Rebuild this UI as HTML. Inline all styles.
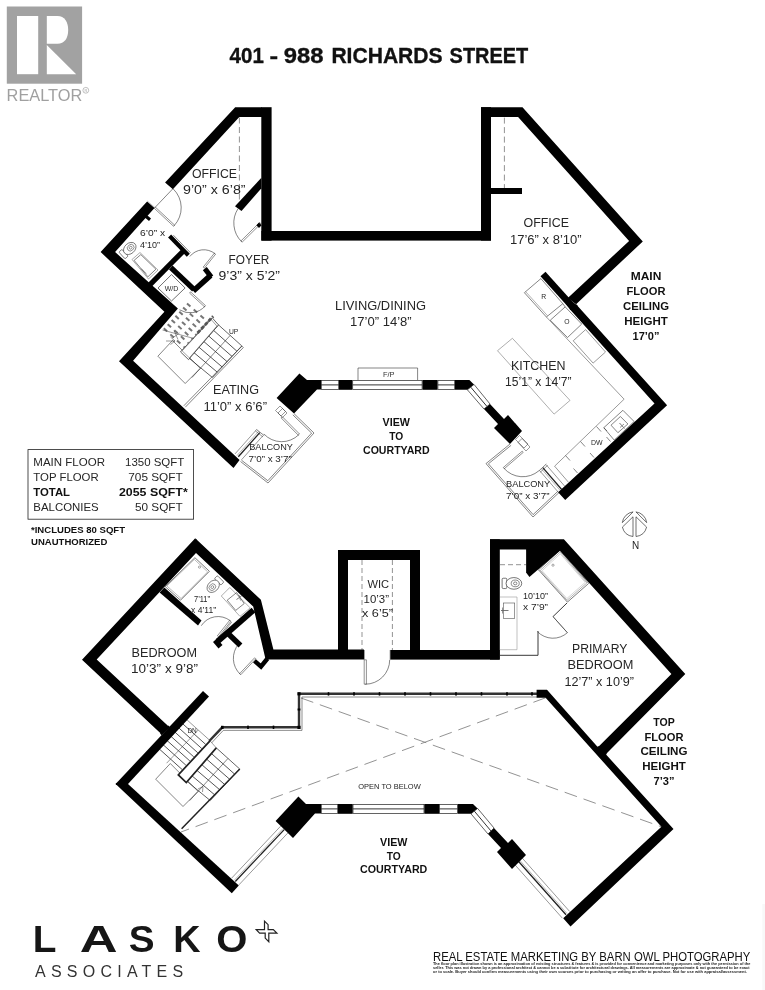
<!DOCTYPE html>
<html><head><meta charset="utf-8"><title>401 - 988 Richards Street</title>
<style>
html,body{margin:0;padding:0;background:#fff;}
body{width:765px;height:990px;overflow:hidden;font-family:"Liberation Sans",sans-serif;}
svg{display:block;font-family:"Liberation Sans",sans-serif;}
</style></head><body>
<svg width="765" height="990" viewBox="0 0 765 990">
<rect x="0" y="0" width="765" height="990" fill="#fff"/>
<g style="opacity:0.999"><line x1="239.4" y1="117.5" x2="239.4" y2="201.0" stroke="#808080" stroke-width="0.85" stroke-dasharray="6 3.5"/>
<line x1="504.4" y1="117.6" x2="504.4" y2="188.0" stroke="#808080" stroke-width="0.85" stroke-dasharray="6 3.5"/>
<path d="M172.6 189.0 L154.7 207.8" fill="none" stroke="#333" stroke-width="0.6" />
<path d="M165.6 182.2 L173.2 188.8" fill="none" stroke="#999" stroke-width="0.5" />
<path d="M147.4 201.0 L154.9 207.5" fill="none" stroke="#999" stroke-width="0.5" />
<path d="M174.1 225.7 A26.2 26.2 0 0 0 173.2 188.9" fill="none" stroke="#333" stroke-width="0.6" />
<path d="M154.4 208.4 L173.6 226.3 L174.6 225.1 L155.4 207.2 Z" fill="none" stroke="#222" stroke-width="0.5" />
<path d="M241.5 241.6 A26.4 26.4 0 0 1 238.0 208.7" fill="none" stroke="#333" stroke-width="0.6" />
<path d="M259.7 222.4 L240.9 241.0 L242.1 242.2 L260.9 223.6 Z" fill="none" stroke="#222" stroke-width="0.5" />
<polygon points="259.0,222.5 261.6,225.2 259.0,228.0 256.4,225.2" fill="#000" />
<path d="M215.0 253.7 A17.9 17.9 0 0 0 189.8 256.5" fill="none" stroke="#333" stroke-width="0.6" />
<path d="M204.4 268.1 L215.6 254.2 L214.4 253.2 L203.2 267.1 Z" fill="none" stroke="#222" stroke-width="0.5" />
<g transform="translate(130.5 247.8) rotate(-42.0) scale(1.00)">
<rect x="-11.5" y="-4.6" width="4.2" height="9.2" rx="1" fill="#fff" stroke="#333" stroke-width="0.6"/>
<ellipse cx="-1" cy="0" rx="7" ry="5.2" fill="#fff" stroke="#333" stroke-width="0.6"/>
<ellipse cx="0.2" cy="0" rx="3.6" ry="3" fill="none" stroke="#333" stroke-width="0.5"/>
<ellipse cx="0.2" cy="0" rx="1.5" ry="1.3" fill="none" stroke="#333" stroke-width="0.5"/>
</g>
<polygon points="132.0,259.5 140.0,252.5 158.0,270.0 148.5,279.0" fill="none" stroke="#777" stroke-width="0.6"/>
<polygon points="134.1,260.4 140.8,254.6 155.9,269.2 147.9,276.8" fill="none" stroke="#333" stroke-width="0.6"/>
<path d="M141.0 268.5 L146.0 273.5" fill="none" stroke="#666" stroke-width="0.9" />
<polygon points="171.5,274.6 185.1,288.0 171.5,301.0 158.0,288.0" fill="none" stroke="#333" stroke-width="0.7"/>
<line x1="162.3" y1="326.9" x2="184.4" y2="347.3" stroke="#777" stroke-width="2.0" stroke-dasharray="4.6 4.4" stroke-dashoffset="-2.0"/>
<line x1="166.2" y1="322.8" x2="188.4" y2="343.1" stroke="#777" stroke-width="2.0" stroke-dasharray="4.6 4.4" stroke-dashoffset="-2.0"/>
<line x1="170.1" y1="318.6" x2="192.3" y2="338.9" stroke="#777" stroke-width="2.0" stroke-dasharray="4.6 4.4" stroke-dashoffset="-2.0"/>
<line x1="173.9" y1="314.5" x2="196.2" y2="334.8" stroke="#777" stroke-width="2.0" stroke-dasharray="4.6 4.4" stroke-dashoffset="-2.0"/>
<line x1="177.8" y1="310.4" x2="200.2" y2="330.6" stroke="#777" stroke-width="2.0" stroke-dasharray="4.6 4.4" stroke-dashoffset="-2.0"/>
<line x1="181.6" y1="306.2" x2="204.1" y2="326.4" stroke="#777" stroke-width="2.0" stroke-dasharray="4.6 4.4" stroke-dashoffset="-2.0"/>
<line x1="185.5" y1="302.1" x2="208.1" y2="322.2" stroke="#777" stroke-width="2.0" stroke-dasharray="4.6 4.4" stroke-dashoffset="-2.0"/>
<polygon points="157.9,356.2 172.5,340.5 200.3,368.4 185.2,383.5" fill="none" stroke="#333" stroke-width="0.6"/>
<polygon points="218.5,324.9 241.8,345.9 212.4,377.5 189.0,358.2" fill="none" stroke="#222" stroke-width="0.7"/>
<path d="M213.6 330.4 L236.9 351.2" fill="none" stroke="#555" stroke-width="1.0" />
<path d="M208.7 336.0 L232.0 356.4" fill="none" stroke="#555" stroke-width="1.0" />
<path d="M203.8 341.5 L227.1 361.7" fill="none" stroke="#555" stroke-width="1.0" />
<path d="M198.8 347.1 L222.2 367.0" fill="none" stroke="#555" stroke-width="1.0" />
<path d="M193.9 352.6 L217.3 372.2" fill="none" stroke="#555" stroke-width="1.0" />
<path d="M230.2 335.4 L191.9 377.6" fill="none" stroke="#333" stroke-width="0.6" />
<polygon points="180.5,351.9 212.2,317.8 218.5,324.9 188.5,359.6" fill="#fff" stroke="#222" stroke-width="0.7"/>
<polygon points="182.1,350.8 211.2,319.5 216.9,326.1 189.4,357.9" fill="none" stroke="#444" stroke-width="0.5"/>
<path d="M183.8 405.8 L242.0 346.1" fill="none" stroke="#333" stroke-width="0.6" />
<path d="M185.3 407.2 L243.3 347.6" fill="none" stroke="#333" stroke-width="0.6" />
<path d="M242.0 346.1 L243.3 347.6" fill="none" stroke="#333" stroke-width="0.6" />
<path d="M197.5 333.0 L213.2 316.2" fill="none" stroke="#555" stroke-width="2.8" stroke-dasharray="3.6 1.8"/>
<path d="M162.5 330.0 L194.0 338.5" fill="none" stroke="#333" stroke-width="0.5" />
<path d="M174.0 330.5 L178.0 339.5" fill="none" stroke="#333" stroke-width="0.5" />
<path d="M172.5 338.0 L179.5 333.0" fill="none" stroke="#333" stroke-width="0.5" />
<path d="M166.0 341.0 L175.0 341.0" fill="none" stroke="#333" stroke-width="0.5" />
<path d="M170.5 337.0 L175.0 341.0 L170.5 344.5" fill="none" stroke="#333" stroke-width="0.5" />
<path d="M205.0 306.2 A20.2 20.2 0 0 1 179.5 309.8" fill="none" stroke="#333" stroke-width="0.6" />
<path d="M189.6 293.1 L204.5 306.8 L205.5 305.6 L190.6 291.9 Z" fill="none" stroke="#222" stroke-width="0.5" />
<path d="M294.0 413.6 L314.0 433.0 L268.0 483.0 L240.5 461.5" fill="none" stroke="#333" stroke-width="0.6" />
<path d="M292.8 414.8 L311.6 433.1 L267.8 480.7 L241.5 460.2" fill="none" stroke="#333" stroke-width="0.6" />
<path d="M298.9 434.6 A24.4 24.4 0 0 1 263.9 434.0" fill="none" stroke="#333" stroke-width="0.6" />
<path d="M281.1 417.9 L298.3 435.2 L299.5 434.0 L282.3 416.7 Z" fill="none" stroke="#222" stroke-width="0.5" />
<polygon points="275.5,410.5 280.0,406.0 285.5,411.5 281.0,416.0" fill="none" stroke="#333" stroke-width="0.5"/>
<polygon points="278.0,413.0 282.5,408.5 287.0,413.0 282.5,417.5" fill="none" stroke="#333" stroke-width="0.5"/>
<path d="M235.0 453.9 L256.5 429.7" fill="none" stroke="#333" stroke-width="0.5" />
<path d="M241.6 459.7 L263.1 435.5" fill="none" stroke="#333" stroke-width="0.5" />
<path d="M238.3 456.8 L259.8 432.6" fill="none" stroke="#222" stroke-width="1.3" />
<path d="M237.0 455.6 L258.5 431.4" fill="none" stroke="#555" stroke-width="0.4" />
<path d="M256.4 429.4 L264.2 435.6" fill="none" stroke="#333" stroke-width="0.6" />
<path d="M255.3 430.8 L263.0 437.0" fill="none" stroke="#333" stroke-width="0.5" />
<path d="M510.0 444.0 L486.0 463.6 L533.0 517.0 L559.3 492.3" fill="none" stroke="#333" stroke-width="0.6" />
<path d="M511.1 445.3 L488.4 463.8 L533.1 514.6 L558.1 491.1" fill="none" stroke="#333" stroke-width="0.6" />
<path d="M503.8 468.1 A25.0 25.0 0 0 0 539.0 470.7" fill="none" stroke="#333" stroke-width="0.6" />
<path d="M522.2 451.2 L503.3 467.5 L504.3 468.7 L523.2 452.4 Z" fill="none" stroke="#222" stroke-width="0.5" />
<polygon points="515.5,439.5 519.5,435.5 528.0,444.0 524.0,448.0" fill="none" stroke="#333" stroke-width="0.5"/>
<polygon points="518.0,442.5 522.0,438.5 530.0,447.0 526.0,451.0" fill="none" stroke="#333" stroke-width="0.5"/>
<path d="M546.1 464.7 L564.8 486.3" fill="none" stroke="#333" stroke-width="0.5" />
<path d="M539.5 470.5 L558.2 492.1" fill="none" stroke="#333" stroke-width="0.5" />
<path d="M542.8 467.6 L561.5 489.2" fill="none" stroke="#222" stroke-width="1.3" />
<path d="M541.4 468.8 L560.1 490.4" fill="none" stroke="#555" stroke-width="0.4" />
<path d="M539.0 470.8 L546.3 464.0" fill="none" stroke="#333" stroke-width="0.6" />
<path d="M540.3 472.2 L547.6 465.4" fill="none" stroke="#333" stroke-width="0.5" />
<polygon points="497.5,350.7 512.4,338.3 570.0,400.4 554.1,414.1" fill="none" stroke="#777" stroke-width="0.6"/>
<polygon points="524.4,292.7 540.9,278.6 562.8,303.7 546.4,317.0" fill="none" stroke="#333" stroke-width="0.6"/>
<path d="M525.6 291.6 L547.6 315.8" fill="none" stroke="#666" stroke-width="0.5" />
<polygon points="550.3,320.2 565.2,306.9 581.7,324.1 567.5,337.5" fill="none" stroke="#333" stroke-width="0.6"/>
<path d="M546.4 317.0 L624.1 399.2 L554.6 466.2 L568.5 482.3" fill="none" stroke="#555" stroke-width="0.6" />
<path d="M562.8 303.7 L565.2 306.9" fill="none" stroke="#333" stroke-width="0.6" />
<polygon points="573.2,340.8 585.6,329.6 605.5,352.0 593.1,363.1" fill="none" stroke="#555" stroke-width="0.6"/>
<polygon points="603.8,427.7 622.9,410.3 634.1,421.5 614.2,440.1" fill="none" stroke="#333" stroke-width="0.6"/>
<polygon points="611.0,425.2 620.4,416.5 627.9,424.0 617.9,432.7" fill="none" stroke="#333" stroke-width="0.6"/>
<path d="M619.5 423.0 L624.5 428.5" fill="none" stroke="#777" stroke-width="1.0" />
<path d="M620.0 427.5 L624.0 424.0" fill="none" stroke="#777" stroke-width="0.8" />
<path d="M596.5 426.5 L601.0 431.5" fill="none" stroke="#333" stroke-width="0.6" />
<path d="M580.5 441.5 L585.0 446.5" fill="none" stroke="#333" stroke-width="0.6" />
<path d="M565.5 455.5 L570.0 460.5" fill="none" stroke="#333" stroke-width="0.6" />
<path d="M610.5 441.5 L606.5 437.0" fill="none" stroke="#333" stroke-width="0.6" />
<path d="M594.0 457.5 L590.0 453.0" fill="none" stroke="#333" stroke-width="0.6" />
<path d="M577.5 473.0 L573.5 468.5" fill="none" stroke="#333" stroke-width="0.6" />
<path d="M603.8 427.7 L607.0 431.0" fill="none" stroke="#333" stroke-width="0.6" />
<path d="M622.3 522.6 A12.4 12.4 0 0 1 633.1 511.9 Z" fill="none" stroke="#333" stroke-width="0.7" />
<path d="M646.7 522.6 A12.4 12.4 0 0 0 635.9 511.9 Z" fill="none" stroke="#333" stroke-width="0.7" />
<path d="M633.0 516.8 L622.4 527.1 A12.4 12.4 0 0 0 633.0 536.5 Z" fill="none" stroke="#333" stroke-width="0.7" />
<path d="M636.0 516.8 L646.6 527.1 A12.4 12.4 0 0 1 636.0 536.5 Z" fill="none" stroke="#333" stroke-width="0.7" />
<line x1="301.0" y1="698.0" x2="661.4" y2="826.8" stroke="#808080" stroke-width="0.85" stroke-dasharray="13 7"/>
<line x1="545.6" y1="697.8" x2="181.0" y2="832.0" stroke="#808080" stroke-width="0.85" stroke-dasharray="13 7"/>
<path d="M209.3 741.0 L222.3 727.3 L299.0 727.3 L299.0 693.8 L537.0 693.8" fill="none" stroke="#333" stroke-width="2.4" />
<path d="M211.5 743.0 L223.3 730.4 L302.0 730.4 L302.0 697.0 L537.0 697.0" fill="none" stroke="#444" stroke-width="0.6" />
<rect x="247.2" y="725.6" width="1.6" height="3.4" fill="#000" />
<rect x="272.7" y="725.6" width="1.6" height="3.4" fill="#000" />
<rect x="327.7" y="692.2" width="1.6" height="3.4" fill="#000" />
<rect x="353.2" y="692.2" width="1.6" height="3.4" fill="#000" />
<rect x="378.7" y="692.2" width="1.6" height="3.4" fill="#000" />
<rect x="404.2" y="692.2" width="1.6" height="3.4" fill="#000" />
<rect x="429.7" y="692.2" width="1.6" height="3.4" fill="#000" />
<rect x="455.2" y="692.2" width="1.6" height="3.4" fill="#000" />
<rect x="480.7" y="692.2" width="1.6" height="3.4" fill="#000" />
<rect x="506.2" y="692.2" width="1.6" height="3.4" fill="#000" />
<rect x="531.2" y="692.2" width="1.6" height="3.4" fill="#000" />
<rect x="297.4" y="692.2" width="3.2" height="3.2" fill="#000" />
<rect x="297.4" y="725.8" width="3.2" height="3.2" fill="#000" />
<rect x="221.0" y="725.8" width="2.6" height="3.2" fill="#000" />
<rect x="297.6" y="708.5" width="2.8" height="2.0" fill="#000" />
<line x1="362.0" y1="560.0" x2="362.0" y2="650.0" stroke="#808080" stroke-width="0.85" stroke-dasharray="5 3"/>
<line x1="392.4" y1="560.0" x2="392.4" y2="650.0" stroke="#808080" stroke-width="0.85" stroke-dasharray="5 3"/>
<path d="M365.3 684.2 A24.4 24.4 0 0 0 389.7 659.8" fill="none" stroke="#333" stroke-width="0.6" />
<path d="M364.2 659.8 L364.2 684.2 L366.4 684.2 L366.4 659.8 Z" fill="none" stroke="#222" stroke-width="0.5" />
<path d="M364.3 650.0 L364.3 659.6" fill="none" stroke="#333" stroke-width="0.6" />
<path d="M390.2 650.0 L390.2 659.6" fill="none" stroke="#333" stroke-width="0.6" />
<polygon points="165.2,586.6 194.9,557.7 209.4,571.3 180.5,600.2" fill="none" stroke="#444" stroke-width="0.7"/>
<polygon points="166.9,586.0 194.3,559.4 207.7,571.9 181.1,598.5" fill="none" stroke="#777" stroke-width="0.5"/>
<circle cx="199.5" cy="567.1" r="1.1" fill="none" stroke="#555" stroke-width="0.5"/>
<g transform="translate(212.5 587.0) rotate(135.0) scale(1.00)">
<rect x="-11.5" y="-4.6" width="4.2" height="9.2" rx="1" fill="#fff" stroke="#333" stroke-width="0.6"/>
<ellipse cx="-1" cy="0" rx="7" ry="5.2" fill="#fff" stroke="#333" stroke-width="0.6"/>
<ellipse cx="0.2" cy="0" rx="3.6" ry="3" fill="none" stroke="#333" stroke-width="0.5"/>
<ellipse cx="0.2" cy="0" rx="1.5" ry="1.3" fill="none" stroke="#333" stroke-width="0.5"/>
</g>
<polygon points="221.3,596.0 229.8,587.5 250.2,607.9 240.0,616.4" fill="none" stroke="#777" stroke-width="0.6"/>
<polygon points="227.2,600.2 236.6,592.6 244.2,603.6 235.7,610.4" fill="none" stroke="#333" stroke-width="0.6"/>
<path d="M236.5 599.5 L241.5 596.0" fill="none" stroke="#666" stroke-width="0.9" />
<path d="M239.0 595.0 L240.5 600.5" fill="none" stroke="#666" stroke-width="0.7" />
<path d="M230.3 620.8 A19.8 19.8 0 0 0 201.3 625.7" fill="none" stroke="#333" stroke-width="0.6" />
<path d="M218.6 636.8 L230.9 621.3 L229.7 620.3 L217.4 635.8 Z" fill="none" stroke="#222" stroke-width="0.5" />
<path d="M219.5 637.5 L231.8 622.0" fill="none" stroke="#333" stroke-width="0.5" />
<path d="M240.2 674.2 A21.9 21.9 0 0 1 238.6 644.1" fill="none" stroke="#333" stroke-width="0.6" />
<path d="M254.6 657.8 L239.6 673.7 L240.8 674.7 L255.8 658.8 Z" fill="none" stroke="#222" stroke-width="0.5" />
<path d="M500.0 655.3 L538.0 655.3 L538.0 631.0" fill="none" stroke="#222" stroke-width="0.9" />
<path d="M553.0 616.6 L567.0 603.0" fill="none" stroke="#222" stroke-width="0.9" />
<path d="M567.4 632.7 A21.6 21.6 0 0 1 537.4 631.6" fill="none" stroke="#333" stroke-width="0.6" />
<path d="M553.0 616.6 L567.4 632.7 L567.4 632.7 L553.0 616.6 Z" fill="none" stroke="#222" stroke-width="0.5" />
<polygon points="538.5,569.8 559.8,550.3 588.7,583.4 567.4,602.1" fill="none" stroke="#444" stroke-width="0.7"/>
<polygon points="540.3,570.3 560.1,552.1 586.9,582.9 567.1,600.3" fill="none" stroke="#666" stroke-width="0.5"/>
<polygon points="542.1,570.7 560.3,553.9 585.2,582.4 566.9,598.5" fill="none" stroke="#999" stroke-width="0.4"/>
<circle cx="553" cy="565.2" r="1.1" fill="none" stroke="#555" stroke-width="0.5"/>
<line x1="500.0" y1="564.7" x2="526.0" y2="564.7" stroke="#808080" stroke-width="0.85" stroke-dasharray="5 3"/>
<g transform="translate(515.0 583.4) rotate(0.0) scale(1.12)">
<rect x="-11.5" y="-4.6" width="4.2" height="9.2" rx="1" fill="#fff" stroke="#333" stroke-width="0.6"/>
<ellipse cx="-1" cy="0" rx="7" ry="5.2" fill="#fff" stroke="#333" stroke-width="0.6"/>
<ellipse cx="0.2" cy="0" rx="3.6" ry="3" fill="none" stroke="#333" stroke-width="0.5"/>
<ellipse cx="0.2" cy="0" rx="1.5" ry="1.3" fill="none" stroke="#333" stroke-width="0.5"/>
</g>
<path d="M500.0 597.0 L517.0 597.0 L517.0 649.7 L500.0 649.7" fill="none" stroke="#999" stroke-width="0.6" />
<rect x="503.4" y="603" width="11.3" height="15.3" fill="none" stroke="#555" stroke-width="0.6"/>
<path d="M501.0 610.5 L508.5 610.5" fill="none" stroke="#666" stroke-width="0.9" />
<path d="M502.5 607.5 L502.5 613.5" fill="none" stroke="#666" stroke-width="0.7" />
<path d="M159.1 748.8 L182.0 769.4" fill="none" stroke="#555" stroke-width="1.0" />
<path d="M163.0 744.6 L185.9 765.2" fill="none" stroke="#555" stroke-width="1.0" />
<path d="M167.0 740.5 L189.9 761.0" fill="none" stroke="#555" stroke-width="1.0" />
<path d="M170.9 736.3 L193.8 756.9" fill="none" stroke="#555" stroke-width="1.0" />
<path d="M174.9 732.1 L197.8 752.8" fill="none" stroke="#555" stroke-width="1.0" />
<path d="M178.9 728.0 L201.8 748.6" fill="none" stroke="#555" stroke-width="1.0" />
<path d="M182.8 723.9 L205.7 744.4" fill="none" stroke="#555" stroke-width="1.0" />
<path d="M198.2 730.0 L166.6 763.2" fill="none" stroke="#333" stroke-width="0.5" />
<path d="M186.8 719.7 L209.7 740.3" fill="none" stroke="#333" stroke-width="0.5" />
<polygon points="155.7,779.2 170.3,763.5 198.1,791.4 183.0,806.5" fill="none" stroke="#333" stroke-width="0.6"/>
<polygon points="216.3,747.9 239.6,768.9 210.2,800.5 186.8,781.2" fill="none" stroke="#222" stroke-width="0.7"/>
<path d="M211.4 753.5 L234.7 774.2" fill="none" stroke="#555" stroke-width="1.0" />
<path d="M206.5 759.0 L229.8 779.4" fill="none" stroke="#555" stroke-width="1.0" />
<path d="M201.6 764.5 L224.9 784.7" fill="none" stroke="#555" stroke-width="1.0" />
<path d="M196.6 770.1 L220.0 790.0" fill="none" stroke="#555" stroke-width="1.0" />
<path d="M191.7 775.6 L215.1 795.2" fill="none" stroke="#555" stroke-width="1.0" />
<path d="M228.0 758.4 L189.7 800.6" fill="none" stroke="#333" stroke-width="0.6" />
<polygon points="178.3,774.9 210.0,740.8 216.3,747.9 186.3,782.6" fill="#fff" stroke="#444" stroke-width="0.5"/>
<path d="M210.0 740.8 L178.3 774.9 L186.3 782.6 L216.3 747.9" fill="none" stroke="#222" stroke-width="1.7" />
<path d="M181.6 828.8 L239.8 769.1" fill="none" stroke="#222" stroke-width="1.5" />
<path d="M198.0 789.0 L203.0 786.5 L202.5 792.0" fill="none" stroke="#333" stroke-width="0.5" />
<path d="M287.8 833.0 L238.9 884.9" fill="none" stroke="#333" stroke-width="0.5" />
<path d="M280.6 826.2 L231.7 878.1" fill="none" stroke="#333" stroke-width="0.5" />
<path d="M284.2 829.6 L235.3 881.5" fill="none" stroke="#222" stroke-width="1.3" />
<path d="M283.0 828.5 L234.1 880.4" fill="none" stroke="#555" stroke-width="0.4" />
<path d="M522.1 857.9 L569.7 911.5" fill="none" stroke="#333" stroke-width="0.5" />
<path d="M514.7 864.5 L562.3 918.1" fill="none" stroke="#333" stroke-width="0.5" />
<path d="M518.4 861.2 L566.0 914.8" fill="none" stroke="#222" stroke-width="1.3" />
<path d="M519.6 860.1 L567.2 913.7" fill="none" stroke="#555" stroke-width="0.4" />
<rect x="6.8" y="6.5" width="75.3" height="77.2" fill="#a2a2a2" />
<rect x="17.0" y="16.0" width="21.2" height="58.2" fill="#fff" />
<path d="M46.8 16 L57.5 16 C64.5 16 68.2 22 68.2 30 C68.2 38 64.5 43.8 57.5 43.8 L46.8 43.8 Z" fill="#fff"/>
<polygon points="46.8,45.0 46.8,74.2 76.2,74.2" fill="#fff" />
<text x="6.6" y="101.4" font-size="16.3" text-anchor="start" textLength="75.6" lengthAdjust="spacingAndGlyphs" fill="#a0a0a0" >REALTOR</text>
<circle cx="85.8" cy="90.3" r="2.9" fill="none" stroke="#a5a5a5" stroke-width="0.7"/>
<text x="85.8" y="91.8" font-size="3.8" text-anchor="middle" fill="#a5a5a5" >R</text>
<text x="229.6" y="63.4" font-size="22" text-anchor="start" font-weight="700" textLength="34.2" lengthAdjust="spacingAndGlyphs" fill="#111" stroke="#111" stroke-width="0.35">401</text>
<text x="269.6" y="63.4" font-size="22" text-anchor="start" font-weight="700" textLength="8.6" lengthAdjust="spacingAndGlyphs" fill="#111" stroke="#111" stroke-width="0.35">-</text>
<text x="283.8" y="63.4" font-size="22" text-anchor="start" font-weight="700" textLength="39.8" lengthAdjust="spacingAndGlyphs" fill="#111" stroke="#111" stroke-width="0.35">988</text>
<text x="331.4" y="63.4" font-size="22" text-anchor="start" font-weight="700" textLength="111.2" lengthAdjust="spacingAndGlyphs" fill="#111" stroke="#111" stroke-width="0.35">RICHARDS</text>
<text x="449.6" y="63.4" font-size="22" text-anchor="start" font-weight="700" textLength="78.7" lengthAdjust="spacingAndGlyphs" fill="#111" stroke="#111" stroke-width="0.35">STREET</text>
<polygon points="235.2,107.2 262.0,107.2 262.0,116.9 239.3,116.9 172.9,189.2 165.1,182.5" fill="#000" />
<rect x="261.3" y="107.2" width="10.3" height="133.4" fill="#000" />
<rect x="261.4" y="231.0" width="229.6" height="9.6" fill="#000" />
<rect x="481.0" y="107.2" width="10.0" height="133.4" fill="#000" />
<polygon points="481.0,107.2 522.5,107.2 642.8,241.4 576.1,304.2 567.8,297.9 629.1,241.0 518.1,116.9 481.0,116.9" fill="#000" />
<rect x="491.0" y="188.0" width="31.0" height="6.0" fill="#000" />
<polygon points="261.4,177.7 261.4,188.2 241.5,211.0 235.0,206.3" fill="#000" />
<path d="M543.0 274.0 L573.2 307.5" fill="none" stroke="#000" stroke-width="6.7" />
<polygon points="565.5,296.5 578.0,306.0 570.5,310.0 566.0,304.0" fill="#000" />
<polygon points="576.1,304.2 667.1,405.2 565.2,500.0 558.1,492.2 654.5,403.6 569.6,309.0" fill="#000" />
<polygon points="147.1,201.4 154.5,208.0 115.1,252.1 177.9,308.4 133.1,360.7 239.6,460.0 233.5,468.0 119.0,361.3 164.4,311.7 100.6,252.1" fill="#000" />
<polygon points="147.5,215.5 151.0,218.6 149.0,221.0 145.1,217.8 144.0,215.0" fill="#000" />
<path d="M169.6 236.0 L188.3 255.3" fill="none" stroke="#000" stroke-width="4.2" />
<path d="M173.4 235.2 L190.5 252.8" fill="none" stroke="#777" stroke-width="0.9" />
<path d="M183.5 250.8 L149.8 284.8" fill="none" stroke="#000" stroke-width="5.2" />
<path d="M170.8 267.5 L194.0 289.5" fill="none" stroke="#000" stroke-width="5.2" />
<path d="M193.3 291.0 L210.6 275.4" fill="none" stroke="#000" stroke-width="5.5" />
<path d="M211.3 277.0 L204.8 268.6" fill="none" stroke="#000" stroke-width="5" />
<polygon points="299.4,373.4 307.0,380.0 321.0,380.0 321.0,389.6 317.0,389.6 294.0,413.6 276.6,398.0" fill="#000" />
<rect x="339.0" y="380.0" width="13.4" height="9.8" fill="#000" />
<rect x="422.4" y="380.0" width="15.2" height="9.8" fill="#000" />
<polygon points="455.0,380.0 469.4,380.0 474.0,384.4 467.4,389.8 455.0,389.8" fill="#000" />
<polygon points="490.0,404.0 504.0,419.0 508.0,415.0 522.0,431.0 510.0,444.0 494.0,428.0 498.0,424.0 484.0,409.0" fill="#000" />
<rect x="321.3" y="380.4" width="17.4" height="9.1" fill="#fff" stroke="#222" stroke-width="0.7"/>
<path d="M321.0 384.9 L339.0 384.9" fill="none" stroke="#333" stroke-width="1.0" />
<rect x="352.7" y="380.4" width="69.4" height="9.1" fill="#fff" stroke="#222" stroke-width="0.7"/>
<path d="M352.4 384.9 L422.4 384.9" fill="none" stroke="#333" stroke-width="1.0" />
<rect x="437.9" y="380.4" width="16.8" height="9.1" fill="#fff" stroke="#222" stroke-width="0.7"/>
<path d="M437.6 384.9 L455.0 384.9" fill="none" stroke="#333" stroke-width="1.0" />
<path d="M474.0 384.4 L490.0 404.0 L484.0 409.0 L467.4 389.8 Z" fill="none" stroke="#222" stroke-width="0.7" />
<path d="M470.7 387.1 L487.0 406.5" fill="none" stroke="#333" stroke-width="1.0" />
<path d="M358.0 380.0 L358.0 368.0 L417.6 368.0 L417.6 380.0" fill="none" stroke="#333" stroke-width="0.6" />
<text x="388.8" y="377.2" font-size="6.9" text-anchor="middle" textLength="11.6" lengthAdjust="spacingAndGlyphs" fill="#333" >F/P</text>
<polygon points="195.2,538.2 82.0,659.8 161.3,734.0 168.7,726.6 96.7,659.4 196.0,553.1" fill="#000" />
<polygon points="115.6,784.0 203.0,691.0 209.0,696.4 128.0,784.0" fill="#000" />
<polygon points="115.6,784.0 231.8,893.2 238.8,885.6 128.0,784.0" fill="#000" />
<polygon points="195.2,538.2 260.9,599.7 273.4,649.6 364.0,649.6 364.0,659.6 265.6,659.6 253.2,606.4 196.0,553.1" fill="#000" />
<rect x="338.0" y="550.0" width="10.0" height="101.0" fill="#000" />
<rect x="338.0" y="550.0" width="82.0" height="10.0" fill="#000" />
<rect x="410.0" y="550.0" width="10.0" height="101.0" fill="#000" />
<rect x="390.4" y="650.0" width="109.2" height="9.6" fill="#000" />
<rect x="490.0" y="539.3" width="9.8" height="120.3" fill="#000" />
<polygon points="490.0,539.3 563.9,539.3 685.3,673.9 605.8,754.2 597.9,747.2 671.4,673.9 558.9,549.6 490.0,549.6" fill="#000" />
<polygon points="526.1,549.0 560.0,549.0 560.0,550.8 529.4,577.1 526.1,572.4" fill="#000" />
<path d="M597.5 746.8 L606.2 754.6" fill="none" stroke="#000" stroke-width="2" />
<path d="M115.9 784.0 L127.8 784.0" fill="none" stroke="#000" stroke-width="2" />
<path d="M160.8 734.4 L169.2 726.2" fill="none" stroke="#000" stroke-width="2.2" />
<polygon points="536.6,689.8 547.0,689.8 597.9,747.2 605.8,754.2 673.5,829.1 570.5,926.5 563.2,918.2 661.4,826.8 545.6,697.8 536.6,697.8" fill="#000" />
<polygon points="164.3,587.5 201.5,620.5 198.0,625.5 159.6,592.5" fill="#000" />
<path d="M253.5 610.0 L217.5 641.5" fill="none" stroke="#000" stroke-width="5.8" />
<path d="M195.6 539.2 L195.8 552.6" fill="none" stroke="#000" stroke-width="1.8" />
<polygon points="213.0,642.0 217.0,638.5 222.5,645.0 218.5,648.5" fill="#000" />
<path d="M228.0 633.5 L240.5 645.5" fill="none" stroke="#000" stroke-width="5.4" />
<path d="M267.5 658.5 L261.0 666.5 L254.5 660.8" fill="none" stroke="#000" stroke-width="4.4" />
<polygon points="298.4,796.6 306.0,804.0 321.0,804.0 321.0,813.6 315.0,813.6 293.0,838.0 275.6,821.0" fill="#000" />
<rect x="338.0" y="804.0" width="14.7" height="9.8" fill="#000" />
<rect x="424.3" y="804.0" width="15.0" height="9.8" fill="#000" />
<polygon points="457.7,804.0 473.0,804.0 477.6,808.4 471.0,813.8 457.7,813.8" fill="#000" />
<polygon points="494.0,828.0 508.0,843.0 512.0,839.0 526.0,855.0 512.0,869.0 497.0,852.0 501.0,848.0 488.0,834.0" fill="#000" />
<rect x="321.3" y="804.4" width="16.4" height="9.1" fill="#fff" stroke="#222" stroke-width="0.7"/>
<path d="M321.0 808.9 L338.0 808.9" fill="none" stroke="#333" stroke-width="1.0" />
<rect x="353.0" y="804.4" width="71.0" height="9.1" fill="#fff" stroke="#222" stroke-width="0.7"/>
<path d="M352.7 808.9 L424.3 808.9" fill="none" stroke="#333" stroke-width="1.0" />
<rect x="439.6" y="804.4" width="17.8" height="9.1" fill="#fff" stroke="#222" stroke-width="0.7"/>
<path d="M439.3 808.9 L457.7 808.9" fill="none" stroke="#333" stroke-width="1.0" />
<path d="M477.6 808.4 L494.0 828.0 L488.0 834.0 L471.0 813.8 Z" fill="none" stroke="#222" stroke-width="0.7" />
<path d="M474.3 811.1 L491.0 831.0" fill="none" stroke="#333" stroke-width="1.0" />
<text x="192.0" y="177.6" font-size="12" text-anchor="start" textLength="45.0" lengthAdjust="spacingAndGlyphs" fill="#262626" >OFFICE</text>
<text x="183.0" y="193.6" font-size="12.5" text-anchor="start" textLength="62.6" lengthAdjust="spacingAndGlyphs" fill="#262626" >9’0” x 6’8”</text>
<text x="228.6" y="264.0" font-size="12" text-anchor="start" textLength="40.7" lengthAdjust="spacingAndGlyphs" fill="#262626" >FOYER</text>
<text x="218.5" y="280.0" font-size="12.5" text-anchor="start" textLength="61.5" lengthAdjust="spacingAndGlyphs" fill="#262626" >9’3” x 5’2”</text>
<text x="335.0" y="310.0" font-size="12" text-anchor="start" textLength="91.0" lengthAdjust="spacingAndGlyphs" fill="#262626" >LIVING/DINING</text>
<text x="350.0" y="326.0" font-size="12.5" text-anchor="start" textLength="61.7" lengthAdjust="spacingAndGlyphs" fill="#262626" >17’0” 14’8”</text>
<text x="523.6" y="227.0" font-size="12" text-anchor="start" textLength="45.4" lengthAdjust="spacingAndGlyphs" fill="#262626" >OFFICE</text>
<text x="510.0" y="244.0" font-size="12.5" text-anchor="start" textLength="71.6" lengthAdjust="spacingAndGlyphs" fill="#262626" >17’6” x 8’10”</text>
<text x="511.0" y="370.0" font-size="12" text-anchor="start" textLength="54.6" lengthAdjust="spacingAndGlyphs" fill="#262626" >KITCHEN</text>
<text x="505.0" y="386.4" font-size="12.5" text-anchor="start" textLength="66.6" lengthAdjust="spacingAndGlyphs" fill="#262626" >15’1” x 14’7”</text>
<text x="213.0" y="393.5" font-size="12" text-anchor="start" textLength="46.0" lengthAdjust="spacingAndGlyphs" fill="#262626" >EATING</text>
<text x="203.4" y="410.5" font-size="12.5" text-anchor="start" textLength="63.6" lengthAdjust="spacingAndGlyphs" fill="#262626" >11’0” x 6’6”</text>
<text x="249.2" y="450.3" font-size="8.6" text-anchor="start" textLength="43.8" lengthAdjust="spacingAndGlyphs" fill="#262626" >BALCONY</text>
<text x="248.5" y="461.6" font-size="8.6" text-anchor="start" textLength="43.2" lengthAdjust="spacingAndGlyphs" fill="#262626" >7’0” x 3’7”</text>
<text x="506.1" y="486.5" font-size="8.6" text-anchor="start" textLength="44.1" lengthAdjust="spacingAndGlyphs" fill="#262626" >BALCONY</text>
<text x="506.1" y="498.6" font-size="8.6" text-anchor="start" textLength="43.4" lengthAdjust="spacingAndGlyphs" fill="#262626" >7’0” x 3’7”</text>
<text x="140.0" y="236.0" font-size="8.6" text-anchor="start" textLength="25.0" lengthAdjust="spacingAndGlyphs" fill="#262626" >6’0” x</text>
<text x="140.0" y="248.4" font-size="8.6" text-anchor="start" textLength="20.0" lengthAdjust="spacingAndGlyphs" fill="#262626" >4’10”</text>
<text x="131.6" y="657.0" font-size="12" text-anchor="start" textLength="65.4" lengthAdjust="spacingAndGlyphs" fill="#262626" >BEDROOM</text>
<text x="131.0" y="673.0" font-size="12.5" text-anchor="start" textLength="67.0" lengthAdjust="spacingAndGlyphs" fill="#262626" >10’3” x 9’8”</text>
<text x="194.0" y="601.6" font-size="8.6" text-anchor="start" textLength="16.0" lengthAdjust="spacingAndGlyphs" fill="#262626" >7’11”</text>
<text x="191.0" y="613.0" font-size="8.6" text-anchor="start" textLength="25.0" lengthAdjust="spacingAndGlyphs" fill="#262626" >x 4’11”</text>
<text x="367.4" y="588.0" font-size="11.2" text-anchor="start" textLength="21.6" lengthAdjust="spacingAndGlyphs" fill="#262626" >WIC</text>
<text x="363.6" y="603.0" font-size="11.2" text-anchor="start" textLength="25.4" lengthAdjust="spacingAndGlyphs" fill="#262626" >10’3”</text>
<text x="362.0" y="617.4" font-size="11.2" text-anchor="start" textLength="31.0" lengthAdjust="spacingAndGlyphs" fill="#262626" >x 6’5”</text>
<text x="523.0" y="598.6" font-size="8.6" text-anchor="start" textLength="25.0" lengthAdjust="spacingAndGlyphs" fill="#262626" >10’10”</text>
<text x="523.0" y="610.0" font-size="8.6" text-anchor="start" textLength="25.0" lengthAdjust="spacingAndGlyphs" fill="#262626" >x 7’9”</text>
<text x="572.0" y="653.0" font-size="12" text-anchor="start" textLength="55.4" lengthAdjust="spacingAndGlyphs" fill="#262626" >PRIMARY</text>
<text x="567.4" y="669.4" font-size="12" text-anchor="start" textLength="66.0" lengthAdjust="spacingAndGlyphs" fill="#262626" >BEDROOM</text>
<text x="564.4" y="685.6" font-size="12.5" text-anchor="start" textLength="69.6" lengthAdjust="spacingAndGlyphs" fill="#262626" >12’7” x 10’9”</text>
<text x="171.5" y="291.3" font-size="7.4" text-anchor="middle" textLength="13.6" lengthAdjust="spacingAndGlyphs" fill="#262626" >W/D</text>
<text x="233.6" y="334.2" font-size="6.7" text-anchor="middle" textLength="9.4" lengthAdjust="spacingAndGlyphs" fill="#262626" >UP</text>
<text x="192.1" y="733.2" font-size="6.7" text-anchor="middle" textLength="9.4" lengthAdjust="spacingAndGlyphs" fill="#262626" >DN</text>
<text x="543.6" y="299.4" font-size="6.8" text-anchor="middle" fill="#262626" >R</text>
<text x="566.8" y="324.4" font-size="6.8" text-anchor="middle" fill="#262626" >O</text>
<text x="596.8" y="445.3" font-size="6.8" text-anchor="middle" textLength="11.6" lengthAdjust="spacingAndGlyphs" fill="#262626" >DW</text>
<text x="635.6" y="549.2" font-size="10.5" text-anchor="middle" textLength="7.2" lengthAdjust="spacingAndGlyphs" fill="#262626" >N</text>
<text x="358.3" y="788.8" font-size="7.4" text-anchor="start" textLength="62.4" lengthAdjust="spacingAndGlyphs" fill="#1c1c1c" >OPEN TO BELOW</text>
<text x="646.0" y="280.0" font-size="10.5" text-anchor="middle" font-weight="700" textLength="30.6" lengthAdjust="spacingAndGlyphs" fill="#111" >MAIN</text>
<text x="646.0" y="295.0" font-size="10.5" text-anchor="middle" font-weight="700" textLength="39.0" lengthAdjust="spacingAndGlyphs" fill="#111" >FLOOR</text>
<text x="646.0" y="310.0" font-size="10.5" text-anchor="middle" font-weight="700" textLength="46.0" lengthAdjust="spacingAndGlyphs" fill="#111" >CEILING</text>
<text x="646.0" y="325.0" font-size="10.5" text-anchor="middle" font-weight="700" textLength="43.6" lengthAdjust="spacingAndGlyphs" fill="#111" >HEIGHT</text>
<text x="646.0" y="340.0" font-size="10.5" text-anchor="middle" font-weight="700" textLength="27.0" lengthAdjust="spacingAndGlyphs" fill="#111" >17’0”</text>
<text x="664.0" y="725.6" font-size="10.5" text-anchor="middle" font-weight="700" textLength="21.5" lengthAdjust="spacingAndGlyphs" fill="#111" >TOP</text>
<text x="664.0" y="740.5" font-size="10.5" text-anchor="middle" font-weight="700" textLength="39.0" lengthAdjust="spacingAndGlyphs" fill="#111" >FLOOR</text>
<text x="664.0" y="755.3" font-size="10.5" text-anchor="middle" font-weight="700" textLength="47.0" lengthAdjust="spacingAndGlyphs" fill="#111" >CEILING</text>
<text x="664.0" y="770.1" font-size="10.5" text-anchor="middle" font-weight="700" textLength="43.6" lengthAdjust="spacingAndGlyphs" fill="#111" >HEIGHT</text>
<text x="664.0" y="785.0" font-size="10.5" text-anchor="middle" font-weight="700" textLength="21.0" lengthAdjust="spacingAndGlyphs" fill="#111" >7’3”</text>
<text x="396.3" y="426.4" font-size="10.2" text-anchor="middle" font-weight="700" textLength="27.4" lengthAdjust="spacingAndGlyphs" fill="#111" >VIEW</text>
<text x="396.3" y="440.0" font-size="10.2" text-anchor="middle" font-weight="700" textLength="14.0" lengthAdjust="spacingAndGlyphs" fill="#111" >TO</text>
<text x="396.3" y="453.6" font-size="10.2" text-anchor="middle" font-weight="700" textLength="66.6" lengthAdjust="spacingAndGlyphs" fill="#111" >COURTYARD</text>
<text x="393.7" y="846.0" font-size="10.2" text-anchor="middle" font-weight="700" textLength="27.4" lengthAdjust="spacingAndGlyphs" fill="#111" >VIEW</text>
<text x="393.7" y="859.6" font-size="10.2" text-anchor="middle" font-weight="700" textLength="14.0" lengthAdjust="spacingAndGlyphs" fill="#111" >TO</text>
<text x="393.7" y="873.3" font-size="10.2" text-anchor="middle" font-weight="700" textLength="67.3" lengthAdjust="spacingAndGlyphs" fill="#111" >COURTYARD</text>
<rect x="28" y="449.6" width="165.6" height="69.6" fill="none" stroke="#222" stroke-width="0.8"/>
<text x="33.3" y="466.3" font-size="11.3" text-anchor="start" textLength="71.7" lengthAdjust="spacingAndGlyphs" fill="#262626" >MAIN FLOOR</text>
<text x="125.0" y="466.3" font-size="11.3" text-anchor="start" textLength="59.3" lengthAdjust="spacingAndGlyphs" fill="#262626" >1350 SQFT</text>
<text x="33.3" y="481.3" font-size="11.3" text-anchor="start" textLength="65.4" lengthAdjust="spacingAndGlyphs" fill="#262626" >TOP FLOOR</text>
<text x="128.3" y="481.3" font-size="11.3" text-anchor="start" textLength="54.4" lengthAdjust="spacingAndGlyphs" fill="#262626" >705 SQFT</text>
<text x="33.3" y="496.3" font-size="11.3" text-anchor="start" font-weight="700" textLength="36.7" lengthAdjust="spacingAndGlyphs" fill="#111" >TOTAL</text>
<text x="119.0" y="496.3" font-size="11.3" text-anchor="start" font-weight="700" textLength="68.7" lengthAdjust="spacingAndGlyphs" fill="#111" >2055 SQFT*</text>
<text x="33.3" y="511.3" font-size="11.3" text-anchor="start" textLength="65.4" lengthAdjust="spacingAndGlyphs" fill="#262626" >BALCONIES</text>
<text x="135.0" y="511.3" font-size="11.3" text-anchor="start" textLength="47.7" lengthAdjust="spacingAndGlyphs" fill="#262626" >50 SQFT</text>
<text x="31.0" y="533.3" font-size="9" text-anchor="start" font-weight="700" textLength="94.0" lengthAdjust="spacingAndGlyphs" fill="#111" >*INCLUDES 80 SQFT</text>
<text x="31.0" y="545.0" font-size="9" text-anchor="start" font-weight="700" textLength="76.3" lengthAdjust="spacingAndGlyphs" fill="#111" >UNAUTHORIZED</text>
<text x="32.8" y="951.7" font-size="36" font-weight="700" textLength="23.7" lengthAdjust="spacingAndGlyphs" fill="#161616">L</text>
<text x="79.8" y="951.7" font-size="36" font-weight="700" textLength="37.8" lengthAdjust="spacingAndGlyphs" fill="#161616">A</text>
<text x="128.8" y="951.7" font-size="36" font-weight="700" textLength="25.8" lengthAdjust="spacingAndGlyphs" fill="#161616">S</text>
<text x="173.2" y="951.7" font-size="36" font-weight="700" textLength="27.3" lengthAdjust="spacingAndGlyphs" fill="#161616">K</text>
<text x="216.2" y="951.7" font-size="36" font-weight="700" textLength="31.2" lengthAdjust="spacingAndGlyphs" fill="#161616">O</text>
<text x="35" y="976.7" font-size="16" textLength="148.2" lengthAdjust="spacing" fill="#333">ASSOCIATES</text>
<path d="M264.5 921.1 L268.1 924.7 L268.1 929.6 L273.3 929.6 L276.9 933.2 L268.8 933.2 L268.8 941.7 L265.2 938.1 L265.2 933.2 L259.6 933.2 L256.2 929.6 L264.5 929.6 Z" fill="none" stroke="#222" stroke-width="1.2" />
<text x="433.0" y="960.5" font-size="12" text-anchor="start" textLength="317.3" lengthAdjust="spacingAndGlyphs" fill="#111" >REAL ESTATE MARKETING BY BARN OWL PHOTOGRAPHY</text>
<rect x="762.3" y="904.0" width="2.7" height="86.0" fill="#f8f8f8" />
<text x="433.0" y="964.7" font-size="3.8" text-anchor="start" font-weight="700" textLength="317.3" lengthAdjust="spacingAndGlyphs" fill="#222" >The floor plan illustration shown is an approximation of existing structures &amp; features &amp; is provided for convenience and marketing purposes only with the permission of the</text>
<text x="433.0" y="969.0" font-size="3.8" text-anchor="start" font-weight="700" textLength="316.5" lengthAdjust="spacingAndGlyphs" fill="#222" >seller. This was not drawn by a professional architect &amp; cannot be a substitute for architectural drawings. All measurements are approximate &amp; not guaranteed to be exact</text>
<text x="433.0" y="973.2" font-size="3.8" text-anchor="start" font-weight="700" textLength="314.0" lengthAdjust="spacingAndGlyphs" fill="#222" >or to scale. Buyer should confirm measurements using their own sources prior to purchasing or writing an offer to purchase. Not for use with appraisal/assessment.</text></g>
</svg>
</body></html>
